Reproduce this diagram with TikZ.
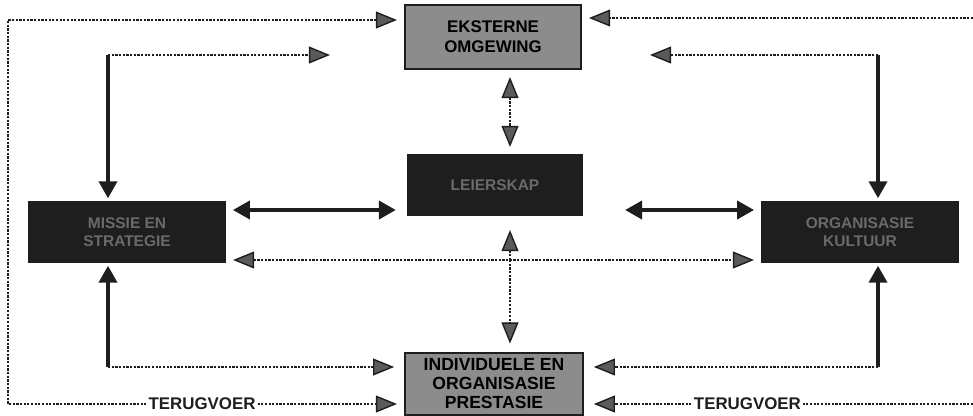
\documentclass[tikz,border=0pt]{standalone}
\usepackage{fontspec}
\setmainfont{Liberation Sans}
\usetikzlibrary{arrows.meta,positioning}
\definecolor{modelInk}{HTML}{1E1E1E}
\definecolor{modelShade}{HTML}{8C8C8C}
\definecolor{modelTip}{HTML}{5A5A5A}
\definecolor{modelFaint}{HTML}{6A6A6A}

\tikzset{
  litebox/.style={draw=modelInk,line width=1.4pt,fill=modelShade,inner sep=0pt,
    align=center,font=\bfseries\fontsize{12}{14}\selectfont},
  darkbox/.style={draw=modelInk,line width=1.4pt,fill=modelInk,text=modelFaint,inner sep=0pt,
    align=center,font=\bfseries\fontsize{11}{13}\selectfont},
  dotlink/.style={modelInk,line width=1.6pt,densely dotted},
  solidlink/.style={modelInk,line width=2.2pt},
  hatchtip/.tip={Triangle[length=15pt,width=12pt,fill=modelTip,line width=1pt]},
  blacktip/.tip={Triangle[length=12pt,width=13pt]},
  loopnote/.style={fill=white,inner sep=0.5pt,font=\bfseries\fontsize{12}{13}\selectfont}
}

\begin{document}
\begin{tikzpicture}[x=0.025cm,y=-0.025cm]
  \useasboundingbox (0,0) rectangle (973,415);

  % boxes
  \node[litebox,minimum width=4.4cm,minimum height=1.6cm] (omgewing) at (493,37) {EKSTERNE\\OMGEWING};
  \node[darkbox,minimum width=4.35cm,minimum height=1.5cm] (leier) at (495,185) {LEIERSKAP};
  \node[darkbox,minimum width=4.9cm,minimum height=1.5cm] (missie) at (127,232) {MISSIE EN\\STRATEGIE};
  \node[darkbox,minimum width=4.9cm,minimum height=1.5cm] (kultuur) at (860,232) {ORGANISASIE\\KULTUUR};
  \node[litebox,minimum width=4.45cm,minimum height=1.55cm,font=\bfseries\fontsize{12.5}{13.5}\selectfont]
    (prestasie) at (494,384) {INDIVIDUELE EN\\ORGANISASIE\\PRESTASIE};

  % corner points
  \coordinate (lt) at (8,20);
  \coordinate (lb) at (8,404);
  \coordinate (rt) at (973,18);
  \coordinate (rb) at (973,404);
  \coordinate (lk) at (108,55);
  \coordinate (lkend) at (330,55);
  \coordinate (rk) at (878,55);
  \coordinate (rkend) at (650,55);
  \coordinate (lo) at (108,367);
  \coordinate (ro) at (878,367);
  \coordinate (as) at (510,260);
  \coordinate (mhi) at (0,210);
  \coordinate (mlo) at (0,260);

  % feedback loops
  \draw[dotlink,{hatchtip}-{hatchtip},shorten <=5pt,shorten >=5pt]
    (omgewing.west |- lt) -- (lt) -- (lb)
    -- node[loopnote,pos=.49] {TERUGVOER} (prestasie.west |- lb);
  \draw[dotlink,-{hatchtip},shorten >=5pt] (rt) -- (omgewing.east |- rt);
  \draw[dotlink,-{hatchtip},shorten >=7pt]
    (rb) -- node[loopnote,pos=.58] {TERUGVOER} (prestasie.east |- rb);

  % environment to strategy and culture
  \draw[dotlink,-{hatchtip}] (lk) -- (lkend);
  \draw[solidlink,-{blacktip},shorten >=2pt] (lk) -- (missie.north -| lk);
  \draw[dotlink,-{hatchtip}] (rk) -- (rkend);
  \draw[solidlink,-{blacktip},shorten >=2pt] (rk) -- (kultuur.north -| rk);

  % environment and leadership
  \draw[dotlink,{hatchtip}-{hatchtip},shorten <=5pt,shorten >=5pt]
    (omgewing.south -| as) -- (leier.north -| as);

  % leadership to strategy and culture
  \draw[solidlink,{blacktip}-{blacktip},shorten <=5pt,shorten >=8pt]
    (missie.east |- mhi) -- (leier.west |- mhi);
  \draw[solidlink,{blacktip}-{blacktip},shorten <=30pt,shorten >=5pt]
    (leier.east |- mhi) -- (kultuur.west |- mhi);

  % strategy, culture, leadership and performance
  \draw[dotlink,{hatchtip}-{hatchtip},shorten <=5pt,shorten >=5pt]
    (missie.east |- mlo) -- (kultuur.west |- mlo);
  \draw[dotlink,-{hatchtip},shorten >=10pt] (as) -- (leier.south -| as);
  \draw[dotlink,-{hatchtip},shorten >=6pt] (as) -- (prestasie.north -| as);

  % strategy and culture to performance
  \draw[solidlink,-{blacktip},shorten >=2pt] (lo) -- (missie.south -| lo);
  \draw[dotlink,-{hatchtip},shorten >=7pt] (lo) -- (prestasie.west |- lo);
  \draw[solidlink,-{blacktip},shorten >=2pt] (ro) -- (kultuur.south -| ro);
  \draw[dotlink,-{hatchtip},shorten >=7pt] (ro) -- (prestasie.east |- ro);
\end{tikzpicture}
\end{document}
